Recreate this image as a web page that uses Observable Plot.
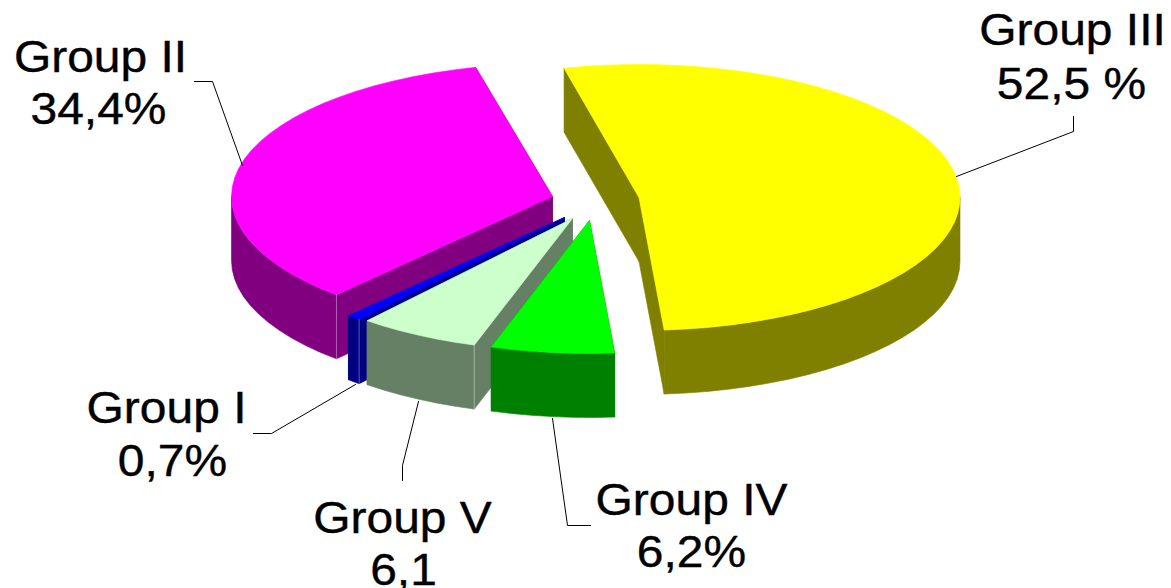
<!DOCTYPE html>
<html>
<head>
<meta charset="utf-8">
<script src="https://cdn.jsdelivr.net/npm/d3@7"></script>
<script src="https://cdn.jsdelivr.net/npm/@observablehq/plot@0.6"></script>
<style>html,body{margin:0;padding:0;background:#fff}svg{display:block}</style>
</head>
<body>
<script>
// Data, clockwise from the pie's start angle
const groups = ["Group III", "Group IV", "Group V", "Group I", "Group II"];
const shares = [52.5, 6.2, 6.1, 0.7, 34.4];
const valueLabels = ["52,5 %", "6,2%", "6,1", "0,7%", "34,4%"];

// Styling
const topColors = ["#ffff00", "#00ff00", "#ccffcc", "#0000ff", "#ff00ff"];
const sideColors = ["#808000", "#008000", "#668066", "#000080", "#800080"];
const ridge = [false, false, true, true, true]; // slices whose front corner shows a light edge

// Layout, in chart units
const explodeX = [638.5, 589, 572, 564, 552];
const explodeY = [197, 220, 218, 217, 196];
const labelX = [1072, 691, 402, 166, 100];
const nameY = [44, 514, 532, 422, 71];
const valueX = [1071, 691, 403, 172, 98];
const valueY = [98, 566, 584, 475, 123];
const leaders = [
  [[1073, 116], [1073, 131], [956, 176]],
  [[590, 525], [567, 525], [552, 418]],
  [[402, 480], [402, 465], [418, 401]],
  [[253, 433], [271, 433], [355, 384]],
  [[194, 81], [212, 81], [242, 165]]
];
const startAngle = -13.5, rx = 321, ry = 133, depth = 64, arcStep = 4;
const textWiden = 1.09;

// Slice geometry derived from the shares
const rim = (i, a) => [explodeX[i] + rx * Math.sin(a * Math.PI / 180), explodeY[i] - ry * Math.cos(a * Math.PI / 180)];
const down = ([x, y]) => [x, y + depth];
const arc = (i, a0, a1) => {
  const n = Math.max(1, Math.ceil((a1 - a0) / arcStep));
  return d3.range(n + 1).map(k => rim(i, a0 + (a1 - a0) * k / n));
};
let cum = startAngle;
const slices = shares.map((s, i) => {
  const a0 = cum, a1 = cum + s * 3.6;
  cum = a1;
  return {i, a0, a1};
});
const poly = (pts, color) => Plot.line([...pts, pts[0]], {
  x: d => d[0], y: d => d[1], fill: color, stroke: color, strokeWidth: 0.6, curve: "linear"
});

// Paint back to front: II, I, V, IV, III
const marks = [];
for (const {i, a0, a1} of [...slices].reverse()) {
  const apex = [explodeX[i], explodeY[i]];
  for (const a of [a0, a1]) {
    const p = rim(i, a);
    marks.push(poly([apex, p, down(p), down(apex)], sideColors[i]));
  }
  const w0 = Math.max(a0, 90), w1 = Math.min(a1, 270);
  if (w1 > w0) {
    const edge = arc(i, w0, w1);
    marks.push(poly([...edge, ...edge.map(down).reverse()], sideColors[i]));
  }
  marks.push(poly([apex, ...arc(i, a0, a1)], topColors[i]));
  if (ridge[i]) {
    const p = rim(i, a0);
    marks.push(Plot.line([p, down(p)], {
      x: d => d[0], y: d => d[1], stroke: "#fff", strokeOpacity: 0.35, strokeWidth: 1
    }));
  }
}

// Leaders and labels
for (const l of leaders) {
  marks.push(Plot.line(l, {x: d => d[0], y: d => d[1], stroke: "#000", strokeWidth: 1, curve: "linear"}));
}
const widen = (index, scales, values, dims, ctx, next) => {
  const g = next(index, scales, values, dims, ctx);
  g.querySelectorAll("text").forEach(t => {
    const tr = t.getAttribute("transform") || "";
    t.setAttribute("transform", `${tr} scale(${textWiden},1)`);
  });
  return g;
};
const textOpts = {
  fontSize: 44, fill: "#000", stroke: "#000", strokeWidth: 0.4, lineAnchor: "bottom", textAnchor: "middle",
  fontFamily: "'Liberation Sans', Arial, sans-serif", render: widen
};
marks.push(Plot.text(groups, {...textOpts, text: d => d, x: (d, i) => labelX[i], y: (d, i) => nameY[i]}));
marks.push(Plot.text(valueLabels, {...textOpts, text: d => d, x: (d, i) => valueX[i], y: (d, i) => valueY[i]}));

document.body.appendChild(Plot.plot({
  width: 1171,
  height: 588,
  margin: 0,
  x: {domain: [0, 1171], range: [0, 1171], axis: null},
  y: {domain: [0, 588], range: [0, 588], axis: null},
  style: {background: "#fff"},
  marks
}));
</script>
</body>
</html>
